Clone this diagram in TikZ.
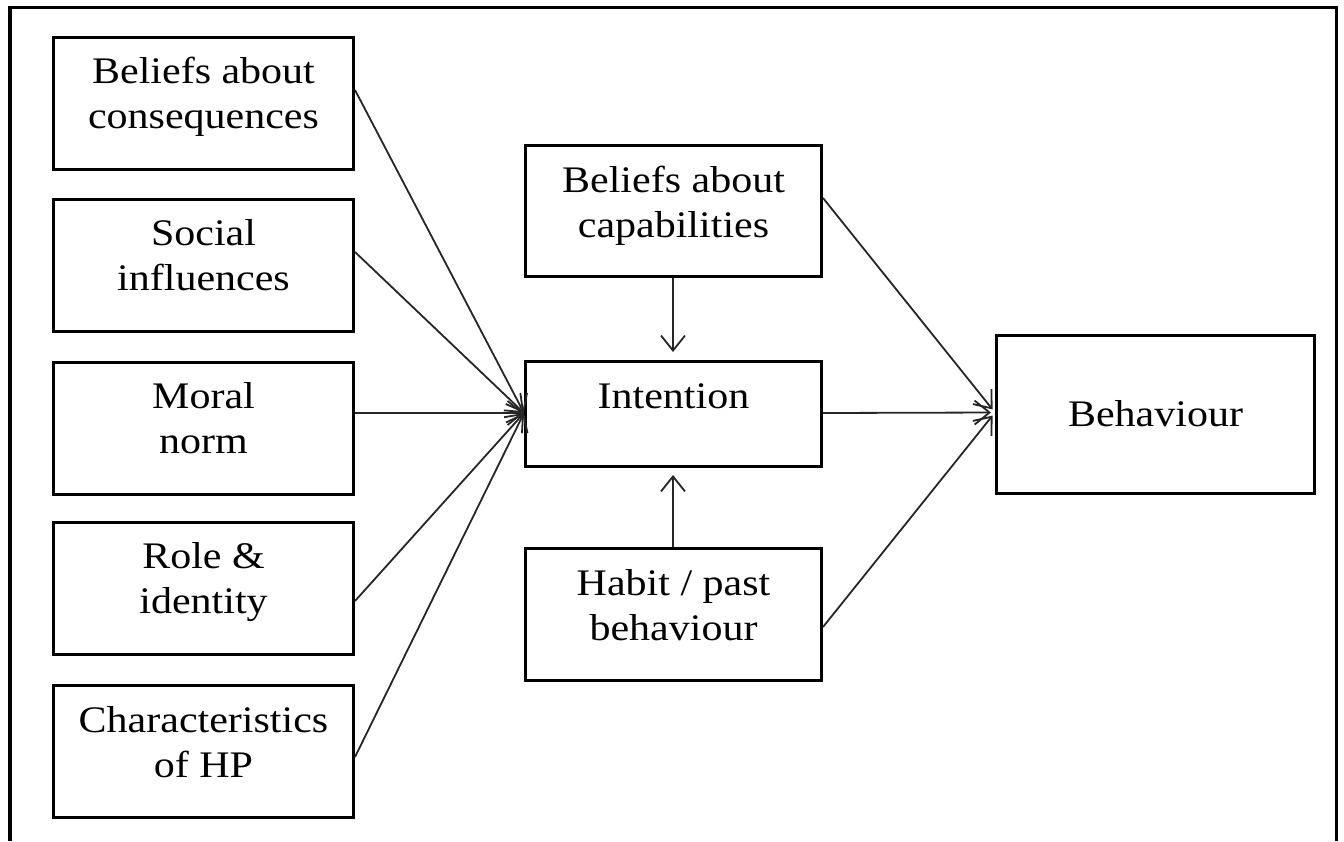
\documentclass[tikz,border=0pt]{standalone}
\usepackage{fontspec}
\setmainfont[FakeStretch=1.12]{Liberation Serif}
\usetikzlibrary{arrows.meta}

\begin{document}
\begin{tikzpicture}[x=1pt,y=-1pt,
  box/.style={draw=black, line width=3pt, rectangle, inner sep=0pt, fill=white},
  lbox/.style={box, minimum width=300pt, minimum height=132pt},
  cbox/.style={box, minimum width=296pt},
  lbl/.style={align=center, inner sep=0pt, font=\fontsize{37.5}{45}\selectfont},
  arr/.style={draw=black!85, line width=1.8pt,
    -{Straight Barb[length=15pt,width=24pt,line width=1.8pt]}}
]
\useasboundingbox (0,0) rectangle (1344,841);

% outer frame, open at the bottom
\draw[line width=3.3pt] (10,841) -- (10,7.5) -- (1336.5,7.5) -- (1336.5,841);

% determinants on the left
\node[lbox] (bc) at (203.5,103) {};
\node[lbl] (bc-t) at ([yshift=6pt]bc.center) {\strut Beliefs about\\\strut consequences};
\node[lbox] (si) at (203.5,265.5) {};
\node[lbl] (si-t) at ([yshift=7pt]si.center) {\strut Social\\\strut influences};
\node[lbox] (mn) at (203.5,428) {};
\node[lbl] (mn-t) at ([yshift=6pt]mn.center) {\strut Moral\\\strut norm};
\node[lbox] (ri) at (203.5,588) {};
\node[lbl] (ri-t) at ([yshift=6.5pt]ri.center) {\strut Role \&\\\strut identity};
\node[lbox] (ch) at (203.5,751.5) {};
\node[lbl] (ch-t) at ([yshift=6pt]ch.center) {\strut Characteristics\\\strut of HP};

% middle column
\node[cbox, minimum height=131pt] (cap) at (673.5,211) {};
\node[lbl] (cap-t) at ([yshift=5.5pt]cap.center) {\strut Beliefs about\\\strut capabilities};
\node[cbox, minimum height=105pt] (int) at (673.5,414) {};
\node[lbl] (int-t) at ([yshift=15pt]int.center) {\strut Intention};
\node[cbox, minimum height=132pt] (hab) at (673.5,614.5) {};
\node[lbl] (hab-t) at ([yshift=5.5pt]hab.center) {\strut Habit / past\\\strut behaviour};

% outcome
\node[box, minimum width=318pt, minimum height=158pt] (beh) at (1155.5,414.5) {};
\node[lbl] (beh-t) at ([yshift=-2.5pt]beh.center) {\strut Behaviour};

% arrows into intention
\draw[arr] ([yshift=13pt]bc.east) -- ([yshift=1pt]int.west);
\draw[arr] ([yshift=13.5pt]si.east) -- ([yshift=1pt]int.west);
\draw[arr] ([yshift=15pt]mn.east) -- ([yshift=1pt]int.west);
\draw[arr] ([yshift=-13pt]ri.east) -- ([yshift=1pt]int.west);
\draw[arr] ([yshift=-5.5pt]ch.east) -- ([yshift=1pt]int.west);
\draw[arr, shorten >=8pt] ([xshift=-0.5pt]cap.south) -- ([xshift=-0.5pt]int.north);
\draw[arr, shorten >=7pt] ([xshift=-0.5pt]hab.north) -- ([xshift=-0.5pt]int.south);

% arrows into behaviour
\draw[arr, shorten >=4pt] ([yshift=13pt]cap.east) -- ([yshift=2pt]beh.west);
\draw[arr, shorten >=4pt] ([yshift=1pt]int.east) -- ([yshift=2pt]beh.west);
\draw[arr, shorten >=4pt] ([yshift=-12.5pt]hab.east) -- ([yshift=2pt]beh.west);
\end{tikzpicture}
\end{document}
